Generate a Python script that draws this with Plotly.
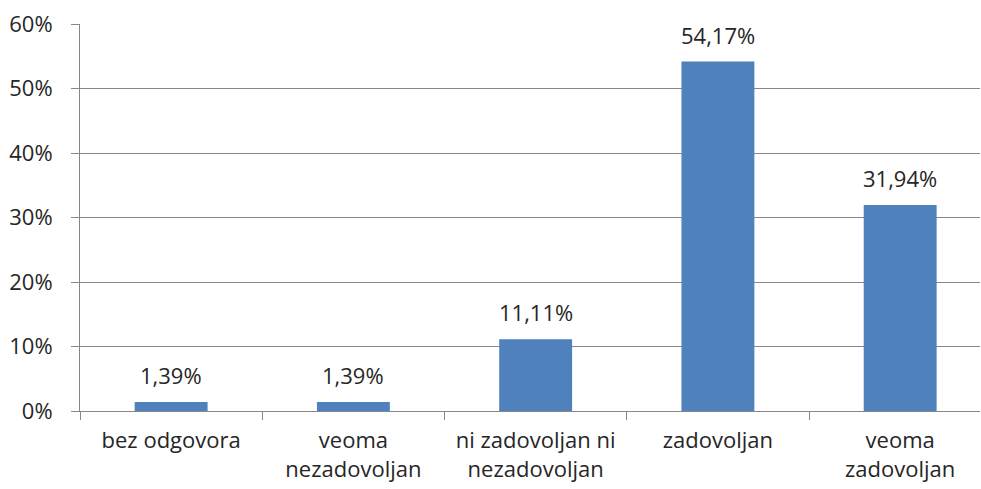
import plotly.graph_objects as go

categories = ["bez odgovora", "veoma<br>nezadovoljan", "ni zadovoljan ni<br>nezadovoljan", "zadovoljan", "veoma<br>zadovoljan"]
values = [1.39, 1.39, 11.11, 54.17, 31.94]
y_ticks = [0, 10, 20, 30, 40, 50, 60]
y_tick_labels = ["0%", "10%", "20%", "30%", "40%", "50%", "60%"]

FONT = "'Open Sans', sans-serif"
FS = 22
TXT = "#262626"
GRID = "#878787"

fig = go.Figure()
fig.add_trace(go.Bar(
    x=categories, y=values, width=0.4,
    marker=dict(color="#4F81BD", line=dict(width=0)),
    hoverinfo="skip",
))

for c, v in zip(categories, values):
    fig.add_annotation(
        x=c, y=v, text=f"{v:.2f}".replace(".", ",") + "%",
        showarrow=False, yanchor="bottom", yshift=10,
        font=dict(family=FONT, size=FS, color=TXT),
    )

fig.update_layout(
    width=981, height=489,
    margin=dict(l=80, r=1, t=24, b=78, autoexpand=False),
    paper_bgcolor="white", plot_bgcolor="white",
    showlegend=False,
    font=dict(family=FONT, size=FS, color=TXT),
)
fig.update_xaxes(
    range=[-0.5, 4.438],
    showline=True, linecolor=GRID, linewidth=1,
    ticks="outside", tickson="boundaries", ticklen=8, tickcolor=GRID,
    ticklabelstandoff=10,
    showgrid=False, automargin=False,
    tickfont=dict(family=FONT, size=FS, color=TXT),
)
fig.update_yaxes(
    range=[0, 60], tickvals=y_ticks, ticktext=y_tick_labels,
    showline=True, linecolor=GRID, linewidth=1,
    ticks="outside", ticklen=8, tickcolor=GRID,
    ticklabelstandoff=14,
    showgrid=True, gridcolor=GRID, gridwidth=1,
    zeroline=False, automargin=False,
    tickfont=dict(family=FONT, size=FS, color=TXT),
)

fig.write_html(
    "out.html",
    config={"displayModeBar": False, "staticPlot": True},
    post_script="document.body.style.margin='0';document.body.style.overflow='hidden';",
)
